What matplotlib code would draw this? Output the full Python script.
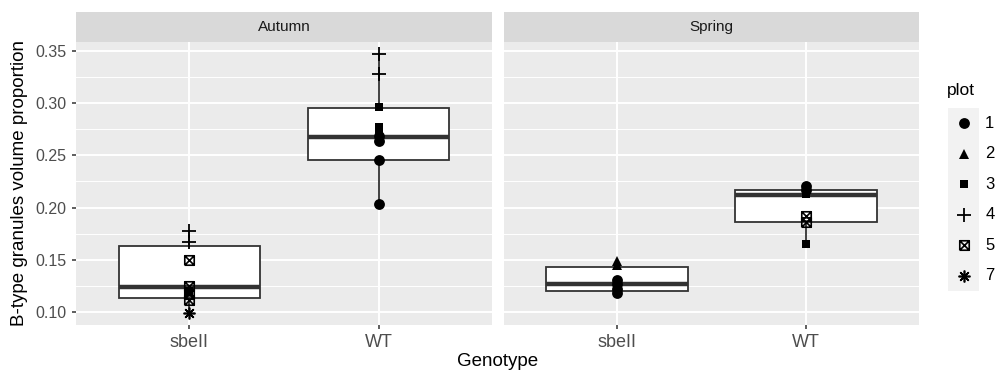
import numpy as np
import matplotlib
matplotlib.use("Agg")
import matplotlib.pyplot as plt
from matplotlib.path import Path

# facet panels and categories
seasons = ["Autumn", "Spring"]
genotypes = ["sbeII", "WT"]

# box statistics per season (rows) and genotype (cols)
box_low = [[0.099, 0.203], [0.118, 0.165]]
box_q1 = [[0.1135, 0.2460], [0.1205, 0.1865]]
box_med = [[0.124, 0.268], [0.127, 0.2125]]
box_q3 = [[0.163, 0.2955], [0.1430, 0.2165]]
box_high = [[0.178, 0.347], [0.149, 0.221]]

# individual observations
pt_season = (["Autumn"] * 8 + ["Autumn"] * 9 + ["Spring"] * 6 + ["Spring"] * 6)
pt_genotype = (["sbeII"] * 8 + ["WT"] * 9 + ["sbeII"] * 6 + ["WT"] * 6)
pt_plot = ([4, 4, 5, 5, 3, 5, 5, 7]
           + [4, 4, 3, 3, 3, 1, 1, 1, 1]
           + [2, 2, 1, 1, 1, 1]
           + [1, 1, 3, 5, 5, 3])
pt_value = ([0.178, 0.167, 0.150, 0.125, 0.120, 0.117, 0.111, 0.099]
            + [0.347, 0.328, 0.296, 0.277, 0.273, 0.269, 0.264, 0.246, 0.203]
            + [0.149, 0.145, 0.131, 0.127, 0.122, 0.118]
            + [0.221, 0.217, 0.213, 0.192, 0.186, 0.165])
plot_levels = [1, 2, 3, 4, 5, 7]

# ggplot-like shapes: 16, 17, 15, 3, 7 (square cross), 8 (asterisk)
boxx = Path([(-1, -1), (1, -1), (1, 1), (-1, 1), (-1, -1), (-1, -1), (1, 1), (-1, 1), (1, -1)],
            [Path.MOVETO, Path.LINETO, Path.LINETO, Path.LINETO, Path.LINETO,
             Path.MOVETO, Path.LINETO, Path.MOVETO, Path.LINETO])
shape_style = {
    1: dict(marker="o", ms=7.8, mfc="black", mec="black", mew=0),
    2: dict(marker="^", ms=7.8, mfc="black", mec="black", mew=0),
    3: dict(marker="s", ms=6.4, mfc="black", mec="black", mew=0),
    4: dict(marker="+", ms=10, mfc="none", mec="black", mew=1.3),
    5: dict(marker=boxx, ms=6.8, mfc="none", mec="black", mew=1.2),
    7: dict(marker=(8, 2, 0), ms=8.5, mfc="none", mec="black", mew=1.2),
}

plt.rcParams["font.family"] = ["Liberation Sans", "DejaVu Sans"]
W, H = 998, 372
fig = plt.figure(figsize=(W / 100, H / 100), dpi=100)


def frame(x0, y0, x1, y1):
    return [x0 / W, 1 - y1 / H, (x1 - x0) / W, (y1 - y0) / H]


panels = [(76, 492), (504, 919)]
box_col = "#333333"
for si, season in enumerate(seasons):
    x0, x1 = panels[si]
    sax = fig.add_axes(frame(x0, 12, x1, 42))
    sax.set_facecolor("#D9D9D9")
    sax.set_xticks([])
    sax.set_yticks([])
    for s in sax.spines.values():
        s.set_visible(False)
    sax.text(0.5, 0.5, season, ha="center", va="center", fontsize=11,
             color="#1A1A1A", transform=sax.transAxes)

    ax = fig.add_axes(frame(x0, 42, x1, 325))
    ax.set_facecolor("#EBEBEB")
    ax.set_xlim(0.4, 2.6)
    ax.set_ylim(0.0875, 0.3586)
    ax.set_yticks([0.10, 0.15, 0.20, 0.25, 0.30, 0.35])
    ax.set_yticks([0.125, 0.175, 0.225, 0.275, 0.325], minor=True)
    ax.set_xticks([1, 2])
    ax.set_xticklabels(genotypes, fontsize=13, color="#4D4D4D")
    ax.grid(which="major", color="white", lw=1.4)
    ax.grid(which="minor", axis="y", color="white", lw=0.7)
    ax.set_axisbelow(True)
    for s in ax.spines.values():
        s.set_visible(False)
    ax.tick_params(which="major", length=2.75, width=1.1, color=box_col, pad=4)
    ax.tick_params(which="minor", length=0)
    if si == 0:
        ax.set_yticklabels([f"{v:.2f}" for v in ax.get_yticks()], fontsize=11.5, color="#4D4D4D")
    else:
        ax.tick_params(axis="y", length=0, labelleft=False)

    stats = []
    for gi, g in enumerate(genotypes):
        stats.append(dict(whislo=box_low[si][gi], q1=box_q1[si][gi], med=box_med[si][gi],
                          q3=box_q3[si][gi], whishi=box_high[si][gi], fliers=[], label=g))
    ax.bxp(stats, positions=[1, 2], widths=0.75, showcaps=False, patch_artist=True,
           boxprops=dict(facecolor="white", edgecolor=box_col, lw=1.3),
           whiskerprops=dict(color=box_col, lw=1.3),
           medianprops=dict(color=box_col, lw=3.2, solid_capstyle="butt"),
           manage_ticks=False, zorder=2)

    for s_, g, p, v in zip(pt_season, pt_genotype, pt_plot, pt_value):
        if s_ != season:
            continue
        ax.plot(genotypes.index(g) + 1, v, ls="none", zorder=3, **shape_style[p])

fig.text(20 / W, 1 - 183.5 / H, "B-type granules volume proportion", rotation=90,
         ha="center", va="center", fontsize=13.5)
fig.text(498 / W, 1 - 362 / H, "Genotype", ha="center", va="center", fontsize=13.5)

# legend
fig.text(947 / W, 1 - 91 / H, "plot", ha="left", va="center", fontsize=12.5)
lax = fig.add_axes(frame(948, 108, 979, 291))
lax.set_facecolor("#F2F2F2")
lax.set_xlim(0, 1)
lax.set_ylim(len(plot_levels) - 0.5, -0.5)
for s in lax.spines.values():
    s.set_visible(False)
lax.set_xticks([])
lax.set_yticks([])
for i, p in enumerate(plot_levels):
    lax.plot(0.5, i, ls="none", **shape_style[p])
    lax.text(1.2, i, str(p), ha="left", va="center", fontsize=12, clip_on=False)

fig.savefig("out.png", dpi=100)
